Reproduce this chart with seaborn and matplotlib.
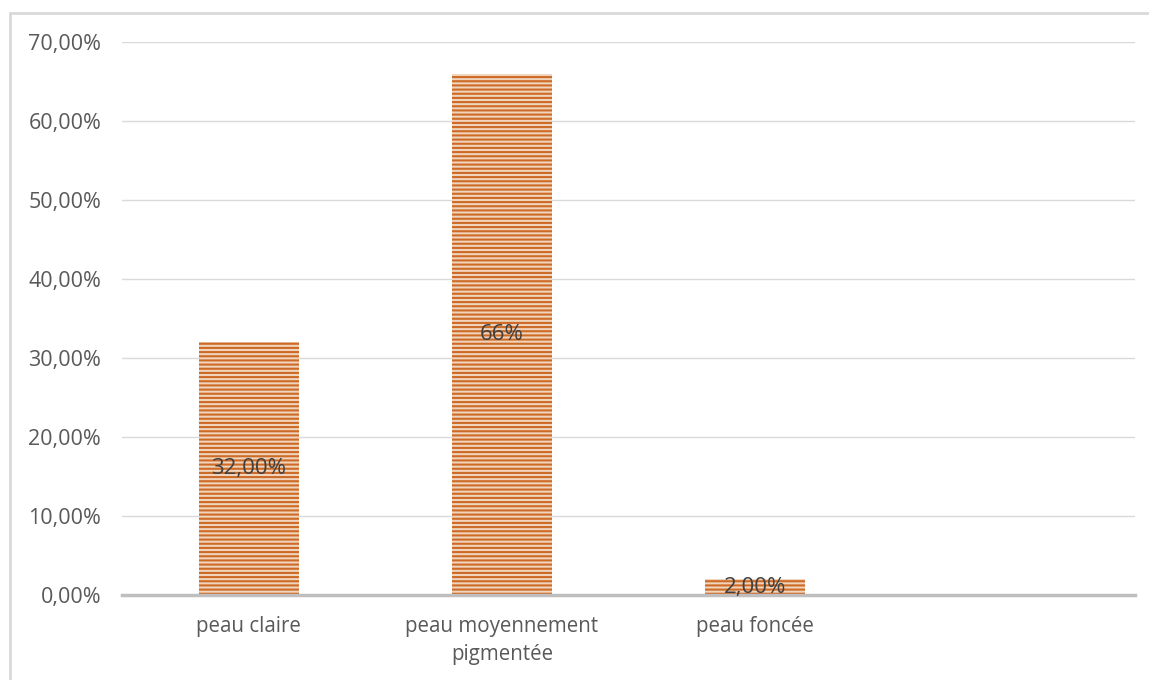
import matplotlib
matplotlib.use("Agg")
import matplotlib.pyplot as plt
from matplotlib.lines import Line2D
from matplotlib.ticker import FuncFormatter
import seaborn as sns
import pandas as pd

# Skin-type distribution
categories = ["peau claire", "peau moyennement\npigmentée", "peau foncée"]
shares = [0.32, 0.66, 0.02]
label_decimals = [2, 0, 2]
y_ticks = [0.0, 0.1, 0.2, 0.3, 0.4, 0.5, 0.6, 0.7]

sns.set_theme(style="white")
plt.rcParams["font.family"] = ["Open Sans", "DejaVu Sans"]
plt.rcParams["hatch.linewidth"] = 1.5

df = pd.DataFrame({"categorie": categories, "part": shares})

fig = plt.figure(figsize=(11.49, 6.80), dpi=100)
ax = fig.add_axes([122 / 1149, 1 - 595 / 680, (1135 - 122) / 1149, (595 - 42) / 680])

sns.barplot(data=df, x="categorie", y="part", order=categories, ax=ax,
            width=0.395, color="#F8D3B4", edgecolor="#CC6A26",
            linewidth=0, hatch="----", zorder=3)

ax.set_xlim(-0.5, 3.5)
ax.set_ylim(0, 0.70)
ax.set_yticks(y_ticks)
ax.yaxis.set_major_formatter(FuncFormatter(
    lambda v, _: f"{v * 100:.2f}%".replace(".", ",")))
ax.grid(axis="y", color="#D9D9D9", linewidth=1.0, zorder=0)
ax.grid(axis="x", visible=False)
for s in ["top", "right", "left"]:
    ax.spines[s].set_visible(False)
ax.spines["bottom"].set_color("#BFBFBF")
ax.spines["bottom"].set_linewidth(2.5)
ax.spines["bottom"].set_zorder(4)
ax.set_xlabel("")
ax.set_ylabel("")
ax.tick_params(axis="y", length=0, pad=15, labelsize=15.5, labelcolor="#595959")
ax.tick_params(axis="x", length=0, pad=15, labelsize=14.8, labelcolor="#595959")
for lbl in ax.get_xticklabels():
    lbl.set_linespacing(1.45)

# Value labels centred inside each bar
for i, (v, d) in enumerate(zip(shares, label_decimals)):
    txt = f"{v * 100:.{d}f}%".replace(".", ",")
    ax.text(i, v / 2, txt, ha="center", va="center", fontsize=16,
            color="#404040", zorder=5)

# Chart area border
fig.add_artist(Line2D([10 / 1149, 1.0], [1 - 13 / 680] * 2,
                      transform=fig.transFigure, color="#D9D9D9", linewidth=2))
fig.add_artist(Line2D([10 / 1149] * 2, [0.0, 1 - 13 / 680],
                      transform=fig.transFigure, color="#D9D9D9", linewidth=2))

fig.savefig("out.png", dpi=100)
